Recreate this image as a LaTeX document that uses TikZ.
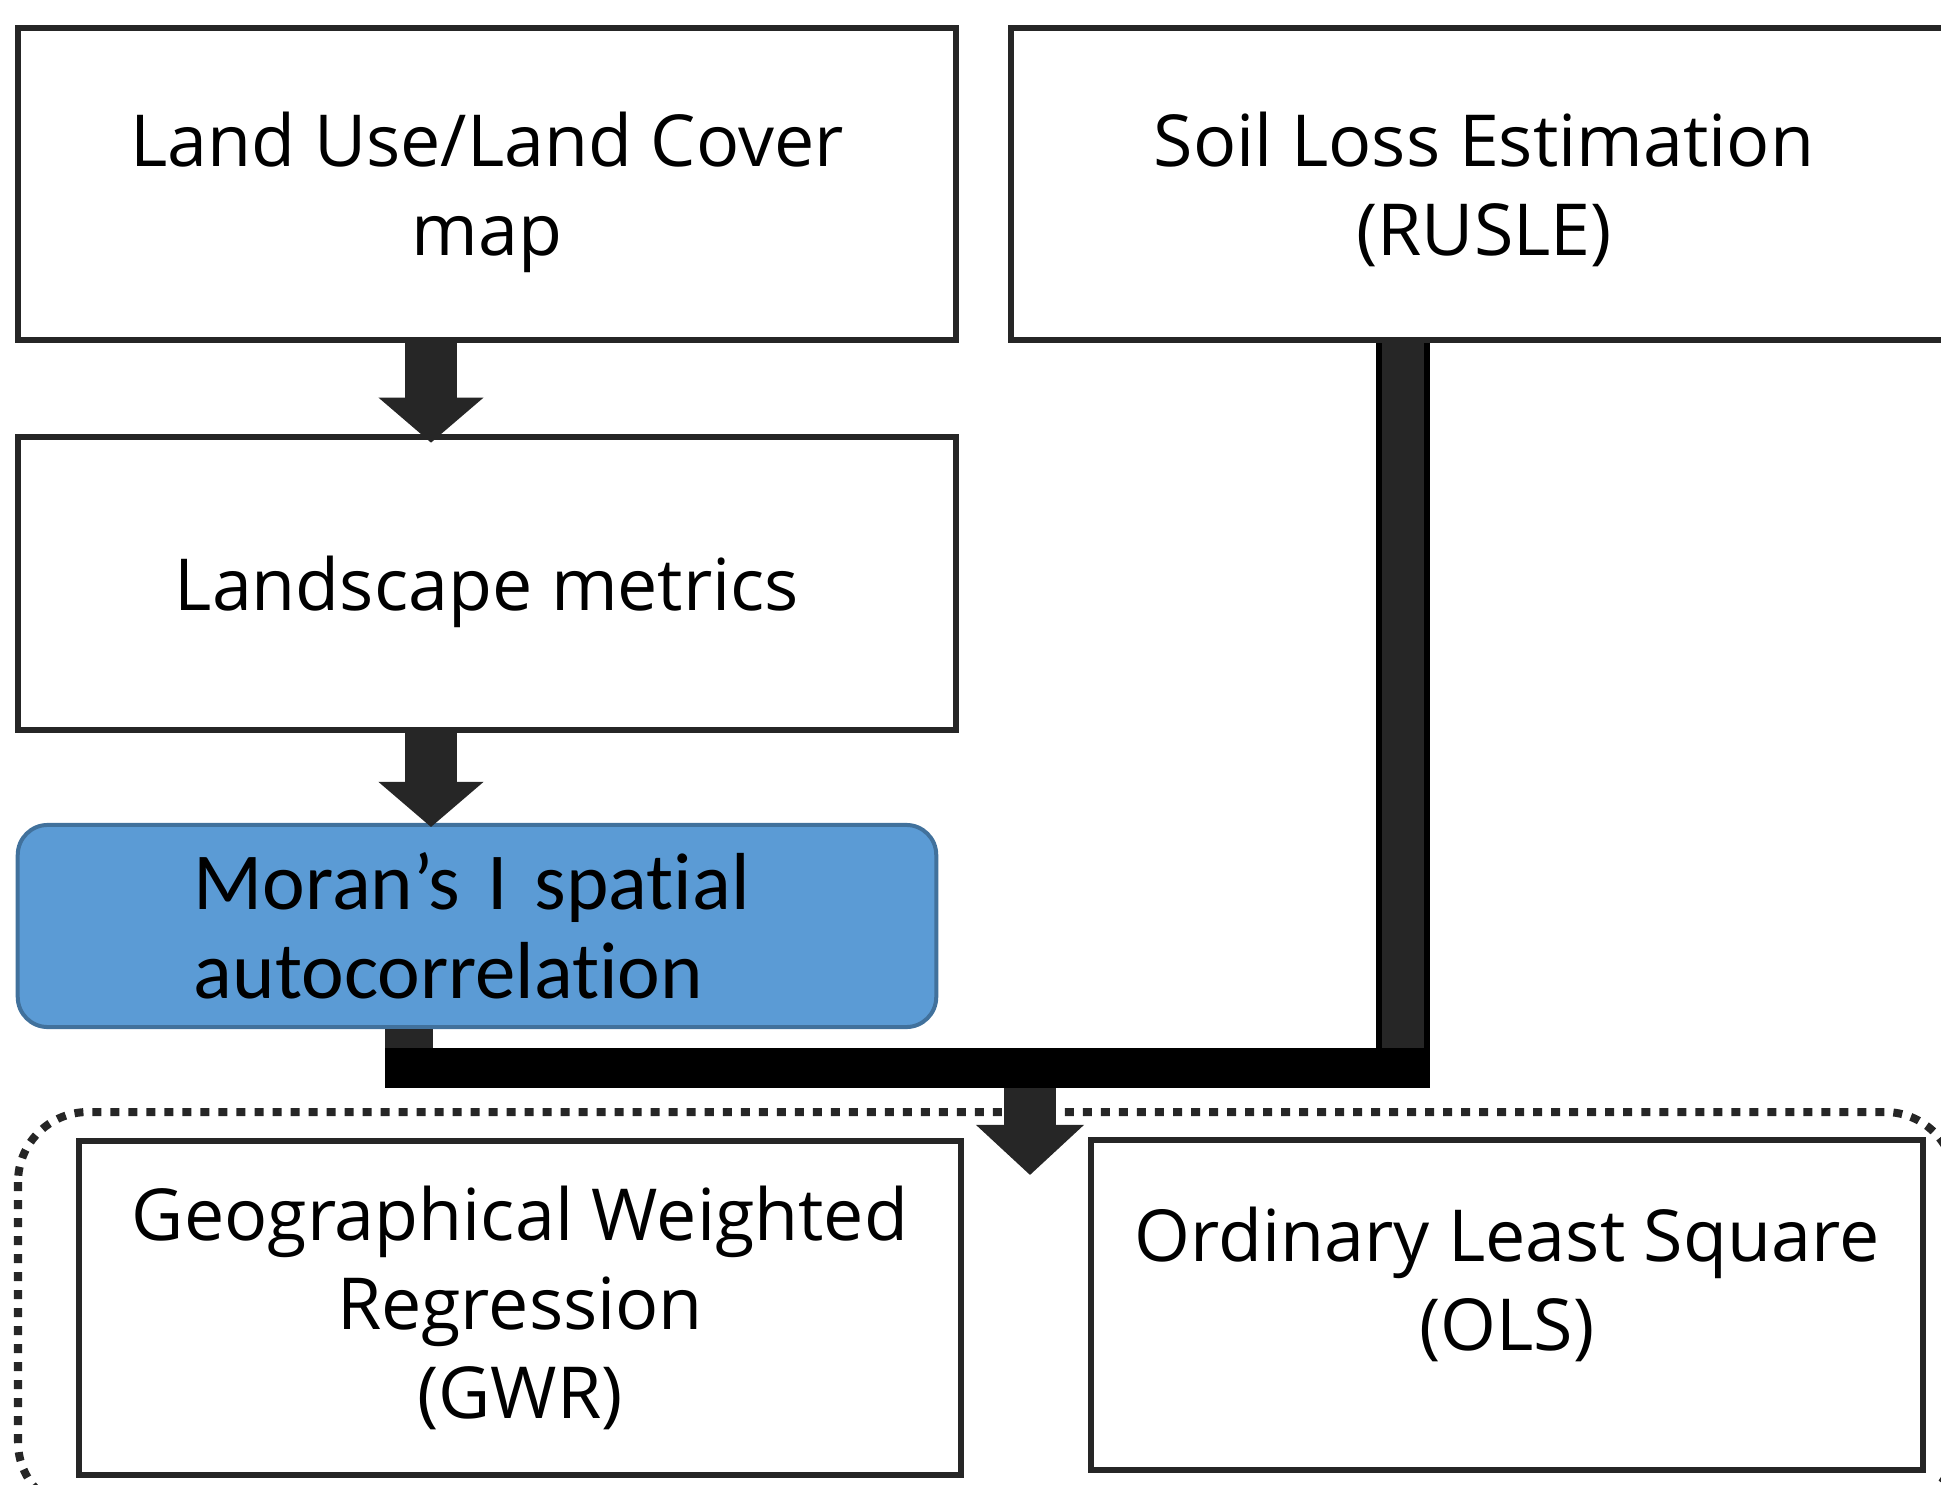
\documentclass[tikz,border=0pt]{standalone}
\usepackage{fontspec}
\setmainfont{Open Sans}
\newfontfamily\calibri[Ligatures=NoCommon]{Carlito}
\usepackage{xcolor}
\usepackage{tikz}
\usetikzlibrary{calc, positioning, arrows.meta}

\definecolor{boxgray}{HTML}{262626}
\definecolor{moranblue}{HTML}{5B9BD5}
\definecolor{moranedge}{HTML}{41719C}

\tikzset{
    box/.style={draw=boxgray, line width=0.06cm, align=center,
        font=\fontsize{20.4}{25.3}\selectfont},
    moranbox/.style={draw=moranedge, fill=moranblue, line width=0.04cm,
        rounded corners=0.3cm, align=left, text width=5.66cm,
        font=\calibri\fontsize{23}{25.3}\selectfont},
    blockarrow/.style={draw=boxgray, line width=0.52cm,
        -{Triangle[width=1.05cm, length=0.45cm, line width=0pt]}},
    bigarrow/.style={draw=boxgray, line width=0.52cm,
        -{Triangle[width=1.08cm, length=0.50cm, line width=0pt]}},
    stubline/.style={draw=boxgray, line width=0.48cm},
    sleline/.style={draw=black, line width=0.06cm, double=boxgray, double distance=0.42cm},
    barline/.style={draw=black, line width=0.40cm},
    dotframe/.style={draw=boxgray, line width=0.08cm, dash pattern=on 0.09cm off 0.09cm,
        rounded corners=0.7cm}
}

\begin{document}
\begin{tikzpicture}[x=0.01cm, y=-0.01cm]
    \path[use as bounding box, clip] (0,0) rectangle (1941,1485);

    % 1. Input boxes
    \node[box, text depth=0pt, minimum width=9.37cm, minimum height=3.11cm] (lulc) at (487,184)
        {Land Use/Land Cover\\map};
    \node[box, text depth=0pt, minimum width=9.45cm, minimum height=3.11cm] (sle) at (1484,184)
        {Soil Loss Estimation\\(RUSLE)};
    \node[box, text depth=0pt, minimum width=9.37cm, minimum height=2.93cm, below=0.91cm of lulc] (land)
        {Landscape metrics};
    \node[moranbox, minimum width=9.18cm, minimum height=2.02cm] (moran) at (477,926)
        {Moran’s I spatial\\autocorrelation};

    % 2. Regression group
    \draw[dotframe] (18,1112) rectangle (1955,1512);
    \node[box, minimum width=8.81cm, minimum height=3.34cm] (gwr) at (520,1308)
        {Geographical Weighted\\Regression\\(GWR)};
    \node[box, text depth=0.52cm, minimum width=8.31cm, minimum height=3.29cm] (ols) at (1507,1305)
        {Ordinary Least Square\\(OLS)};

    % 3. Arrows down the left column
    \coordinate (ax) at (431,0);
    \draw[blockarrow] (lulc.south -| ax) -- ($(land.north -| ax)+(0,9)$);
    \draw[blockarrow] (land.south -| ax) -- ($(moran.north -| ax)+(0,4)$);

    % 4. Joining bar and arrow into the regressions
    \coordinate (m) at (409,1068);
    \coordinate (s) at (1403,1068);
    \coordinate (merge) at (1030,1068);
    \draw[stubline] (moran.south -| m) -- (m);
    \draw[sleline] (sle.south -| s) -- (s);
    \draw[bigarrow] (merge) -- ($(gwr.north -| merge)+(0,37)$);
    \draw[barline] ($(m)+(-24,0)$) -- ($(s)+(27,0)$);
\end{tikzpicture}
\end{document}
